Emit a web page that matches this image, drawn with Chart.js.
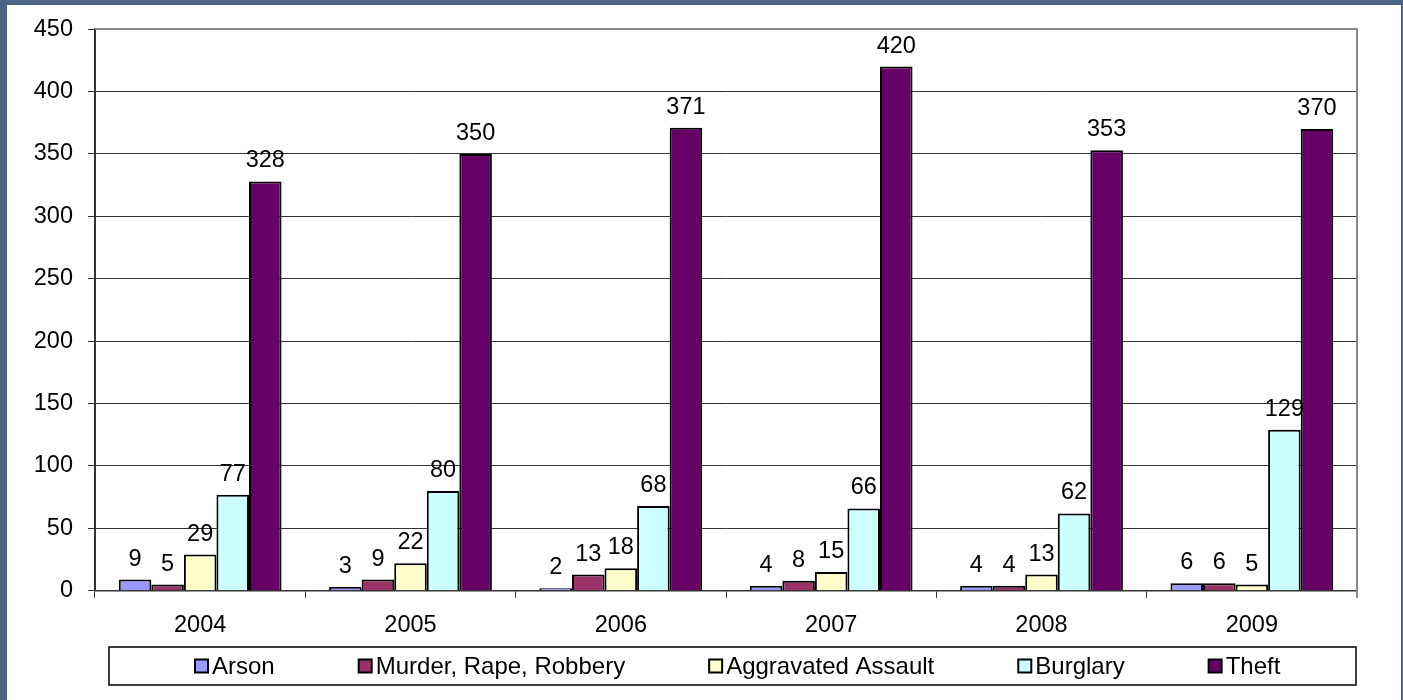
<!DOCTYPE html>
<html>
<head>
<meta charset="utf-8">
<script src="https://cdn.jsdelivr.net/npm/chart.js@4.4.1/dist/chart.umd.min.js"></script>
<style>
  html, body { margin: 0; padding: 0; background: #4a6584; }
  canvas { display: block; }
</style>
</head>
<body>
<canvas id="myChart" width="1403" height="700"></canvas>
<script>
const years = ["2004", "2005", "2006", "2007", "2008", "2009"]
const arson = [9, 3, 2, 4, 4, 6]
const murderRapeRobbery = [5, 9, 13, 8, 4, 6]
const aggravatedAssault = [29, 22, 18, 15, 13, 5]
const burglary = [77, 80, 68, 66, 62, 129]
const theft = [328, 350, 371, 420, 353, 370]

const seriesNames = ["Arson", "Murder, Rape, Robbery", "Aggravated Assault", "Burglary", "Theft"]
const seriesColors = ["#9999ff", "#993366", "#ffffcc", "#ccffff", "#660066"]
const seriesValues = [arson, murderRapeRobbery, aggravatedAssault, burglary, theft]

const font = "Liberation Sans, Arial, sans-serif"

// blue frame + white panel
const panel = {
    id: "panel",
    beforeDraw(chart) {
        const c = chart.ctx
        c.save()
        c.fillStyle = "#4a6584"
        c.fillRect(0, 0, chart.width, chart.height)
        c.fillStyle = "#ffffff"
        c.fillRect(7, 5, 1394, 695)
        c.restore()
    }
}

// gray border on top and right of the plot
const plotBorder = {
    id: "plotBorder",
    afterDraw(chart) {
        const a = chart.chartArea
        const c = chart.ctx
        c.save()
        c.strokeStyle = "#888888"
        c.lineWidth = 2
        c.beginPath()
        c.moveTo(a.left, a.top)
        c.lineTo(a.right, a.top)
        c.lineTo(a.right, a.bottom + 7)
        c.stroke()
        c.restore()
    }
}

// value labels above bars
const valueLabels = {
    id: "valueLabels",
    afterDatasetsDraw(chart) {
        const c = chart.ctx
        c.save()
        c.font = "23.5px " + font
        c.fillStyle = "#000"
        c.textAlign = "center"
        c.textBaseline = "alphabetic"
        chart.data.datasets.forEach((ds, i) => {
            chart.getDatasetMeta(i).data.forEach((bar, j) => {
                c.fillText(ds.data[j], bar.x, bar.y - 14)
            })
        })
        c.restore()
    }
}

// excel-like boxed legend
const boxLegend = {
    id: "boxLegend",
    afterDraw(chart) {
        const a = chart.chartArea
        const c = chart.ctx
        const left = a.left + 14, right = a.right - 1, top = 647, bottom = 685
        const mid = (top + bottom) / 2
        c.save()
        c.strokeStyle = "#000"
        c.lineWidth = 1.5
        c.strokeRect(left, top, right - left, bottom - top)
        c.font = "24px " + font
        c.textBaseline = "middle"
        c.textAlign = "left"
        let x = left + 86
        chart.data.datasets.forEach((ds) => {
            c.fillStyle = ds.backgroundColor
            c.fillRect(x, mid - 6.5, 13, 13)
            c.lineWidth = 2
            c.strokeRect(x, mid - 6.5, 13, 13)
            c.fillStyle = "#000"
            c.fillText(ds.label, x + 17, mid + 1)
            x += 17 + c.measureText(ds.label).width + 84
        })
        c.restore()
    }
}

const ctx = document.getElementById("myChart")
new Chart(ctx, {
    type: "bar",
    data: {
        labels: years,
        datasets: seriesNames.map((name, i) => ({
            label: name,
            data: seriesValues[i],
            backgroundColor: seriesColors[i],
            borderColor: "#000",
            borderWidth: 2,
            categoryPercentage: 0.774,
            barPercentage: 1
        }))
    },
    options: {
        responsive: false,
        animation: false,
        devicePixelRatio: 1,
        layout: {
            padding: { left: 0, right: 46, top: 28, bottom: 46 }
        },
        plugins: {
            legend: { display: false },
            tooltip: { enabled: false }
        },
        scales: {
            x: {
                offset: true,
                grid: { drawOnChartArea: false, tickLength: 7, color: "#333", lineWidth: 1 },
                border: { color: "#333", width: 1.5 },
                ticks: { font: { family: font, size: 23.5 }, color: "#000", padding: 14 }
            },
            y: {
                min: 0,
                max: 450,
                ticks: { stepSize: 50, font: { family: font, size: 23.5 }, color: "#000", padding: 15 },
                grid: { color: "#333", lineWidth: 1, tickLength: 7 },
                border: { color: "#333", width: 2 },
                afterFit(scale) { scale.width = 95 }
            }
        }
    },
    plugins: [panel, plotBorder, valueLabels, boxLegend]
})
</script>
</body>
</html>
